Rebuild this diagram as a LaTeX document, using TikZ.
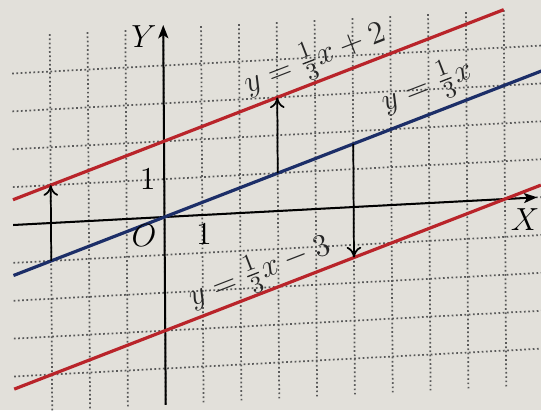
\documentclass[tikz,border=0pt]{standalone}
\usepackage{amsmath, amssymb}
\usepackage{xcolor}
\usepackage{tikz}
\usetikzlibrary{arrows.meta}
\definecolor{paper}{RGB}{226,224,218}
\definecolor{linered}{RGB}{185,36,42}
\definecolor{lineblue}{RGB}{28,46,104}

\begin{document}
\begin{tikzpicture}[
  x={(0.4998cm,0.0264cm)}, y={(-0.0033cm,0.5003cm)},
  font=\fontsize{12.5}{15}\selectfont,
  gridline/.style={black!65, line width=0.65pt, dash pattern=on 0.65pt off 0.95pt},
  axis/.style={line width=0.75pt, -{Stealth[length=5pt, width=3.8pt, inset=1.2pt]}},
  redline/.style={linered, line width=1.2pt},
  blueline/.style={lineblue, line width=1.2pt},
  arr/.style={line width=0.65pt, -{To[length=4pt, width=5.5pt]}},
  eq/.style={sloped, inner sep=0pt, text=black!85}
]
\path[use as bounding box, fill=paper] (-2.173cm,-2.550cm) rectangle (4.974cm,2.867cm);

\foreach \i in {-3,...,9} \draw[gridline] (\i,-4.95) -- (\i,5.05);
\foreach \j in {-4,...,4} \draw[gridline] (-4,\j) -- (10,\j);

\coordinate (Xs) at (-4,0);
\coordinate (Xe) at (9.85,0);
\coordinate (Ys) at (0,-4.96);
\coordinate (Ye) at (0,5.07);
\draw[axis] (Xs) -- (Xe);
\draw[axis] (Ys) -- (Ye);

\coordinate (Ps) at (-4,0.6667);
\coordinate (Pe) at (9,5);
\coordinate (Bs) at (-4,-1.3333);
\coordinate (Be) at (10,3.3333);
\coordinate (Ms) at (-4,-4.3333);
\coordinate (Me) at (9.95,0.3167);

\draw[redline] (Ps) -- (Pe) node[eq, pos=0.631, above=0.5pt] (eqP) {$y=\frac{1}{3}x+2$};
\draw[blueline] (Bs) -- (Be) node[eq, pos=0.80, above=2.2pt] (eqB) {$y=\frac{1}{3}x$};
\draw[redline] (Ms) -- (Me) node[eq, pos=0.48, above=0pt] (eqM) {$y=\frac{1}{3}x-3$};

\coordinate (A1) at (-3,-1);
\coordinate (A2) at (-3,1);
\coordinate (B1) at (3,1);
\coordinate (B2) at (3,3);
\coordinate (C1) at (5,1.6667);
\coordinate (C2) at (5,-1.3333);
\draw[arr] (A1) -- (A2);
\draw[arr] (B1) -- (B2);
\draw[arr] (C1) -- (C2);

\node (Ylab) at (-0.51,4.78) {$Y$};
\node (Xlab) at (9.53,-0.58) {$X$};
\node (O) at (-0.545,-0.47) {$O$};
\node (onex) at (1.04,-0.5) {$1$};
\node (oney) at (-0.44,1.03) {$1$};
\end{tikzpicture}
\end{document}
